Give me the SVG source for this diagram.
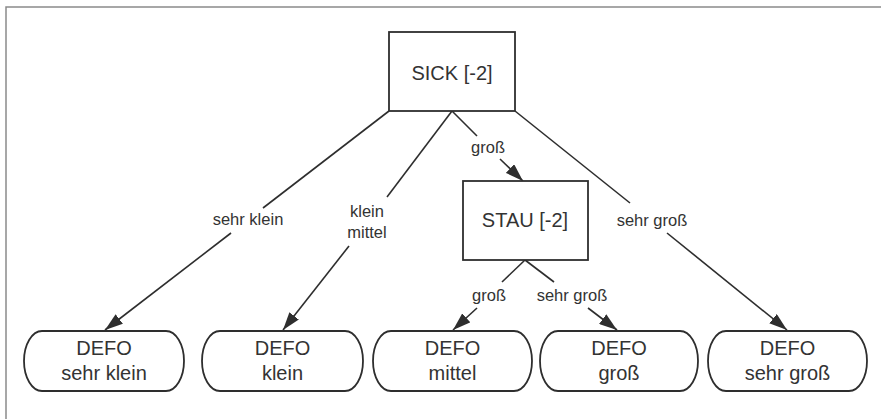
<svg xmlns="http://www.w3.org/2000/svg" width="881" height="419" viewBox="0 0 881 419">
<style>
  .box { fill: #ffffff; stroke: #2e2e2e; stroke-width: 1.8; }
  .edge { fill: none; stroke: #2e2e2e; stroke-width: 1.6; }
  .t { font-family: "Liberation Sans", Arial, sans-serif; fill: #333333; text-anchor: middle; }
  .big { font-size: 20px; }
  .lbl { font-size: 16.5px; }
  .frame { fill: none; stroke: #8a8a8a; stroke-width: 1.5; }
</style>
<defs>
  <marker id="arr" markerUnits="userSpaceOnUse" markerWidth="18" markerHeight="12" refX="18" refY="6" orient="auto">
    <path d="M0,0 L18,6 L0,12 z" fill="#2e2e2e"/>
  </marker>
</defs>
<rect x="0" y="0" width="881" height="419" fill="#ffffff"/>
<path class="frame" d="M6,419 L6,7 L881,7"/>

<g id="connectors">
  <line class="edge" x1="389" y1="111" x2="263" y2="208"/>
  <line class="edge" x1="231" y1="233" x2="105" y2="330" marker-end="url(#arr)"/>
  <line class="edge" x1="452" y1="111" x2="387" y2="197"/>
  <line class="edge" x1="349" y1="246" x2="283" y2="330" marker-end="url(#arr)"/>
  <line class="edge" x1="452" y1="111" x2="477" y2="136"/>
  <line class="edge" x1="500" y1="159" x2="523" y2="181" marker-end="url(#arr)"/>
  <line class="edge" x1="515" y1="111" x2="630" y2="203"/>
  <line class="edge" x1="667" y1="233" x2="787" y2="330" marker-end="url(#arr)"/>
  <line class="edge" x1="525" y1="260" x2="502" y2="282"/>
  <line class="edge" x1="477" y1="308" x2="453" y2="330" marker-end="url(#arr)"/>
  <line class="edge" x1="525" y1="260" x2="554" y2="282"/>
  <line class="edge" x1="588" y1="308" x2="617" y2="330" marker-end="url(#arr)"/>
  <text class="t lbl" x="248" y="225">sehr klein</text>
  <text class="t lbl" x="367" y="217">klein</text>
  <text class="t lbl" x="367" y="238">mittel</text>
  <text class="t lbl" x="488" y="153">groß</text>
  <text class="t lbl" x="652" y="226">sehr groß</text>
  <text class="t lbl" x="489" y="301">groß</text>
  <text class="t lbl" x="572" y="301">sehr groß</text>
</g>

<g id="sick">
  <rect class="box" x="389" y="32" width="126" height="79"/>
  <text class="t big" x="452" y="80">SICK [-2]</text>
</g>
<g id="stau">
  <rect class="box" x="463" y="181" width="125" height="79"/>
  <text class="t big" x="525" y="227">STAU [-2]</text>
</g>
<g id="defo-sehr-klein">
  <rect class="box" x="24" y="331" width="160" height="60" rx="18" ry="30"/>
  <text class="t big" x="104" y="355">DEFO</text>
  <text class="t big" x="104" y="380">sehr klein</text>
</g>
<g id="defo-klein">
  <rect class="box" x="202" y="331" width="161" height="60" rx="18" ry="30"/>
  <text class="t big" x="282.5" y="355">DEFO</text>
  <text class="t big" x="282.5" y="380">klein</text>
</g>
<g id="defo-mittel">
  <rect class="box" x="373" y="331" width="159" height="60" rx="18" ry="30"/>
  <text class="t big" x="452.5" y="355">DEFO</text>
  <text class="t big" x="452.5" y="380">mittel</text>
</g>
<g id="defo-gross">
  <rect class="box" x="540" y="331" width="158" height="60" rx="18" ry="30"/>
  <text class="t big" x="619" y="355">DEFO</text>
  <text class="t big" x="619" y="380">groß</text>
</g>
<g id="defo-sehr-gross">
  <rect class="box" x="708" y="331" width="159" height="60" rx="18" ry="30"/>
  <text class="t big" x="787.5" y="355">DEFO</text>
  <text class="t big" x="787.5" y="380">sehr groß</text>
</g>
</svg>
